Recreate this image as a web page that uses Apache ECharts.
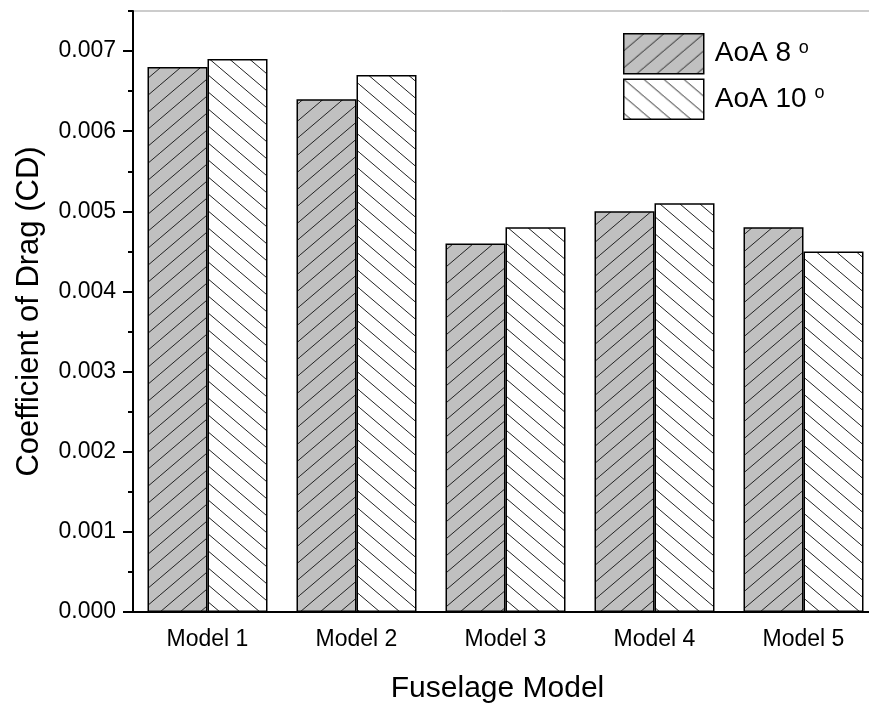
<!DOCTYPE html>
<html>
<head>
<meta charset="utf-8">
<script src="https://cdn.jsdelivr.net/npm/echarts@6/dist/echarts.min.js"></script>
<style>
html,body{margin:0;padding:0;background:#fff;}
#chart{width:869px;height:705px;}
</style>
</head>
<body>
<div id="chart"></div>
<script>
const categories = ['Model 1', 'Model 2', 'Model 3', 'Model 4', 'Model 5'];
const aoa8 = [0.0068, 0.0064, 0.0046, 0.0050, 0.0048];
const aoa10 = [0.0069, 0.0067, 0.0048, 0.0051, 0.0045];
const yMajorTicks = [0, 0.001, 0.002, 0.003, 0.004, 0.005, 0.006, 0.007];
const yMinorTicks = [0.0005, 0.0015, 0.0025, 0.0035, 0.0045, 0.0055, 0.0065, 0.0075];

function makeHatch(bg, forward) {
  const w = 20, h = 17;
  const c = document.createElement('canvas');
  c.width = w; c.height = h;
  const ctx = c.getContext('2d');
  ctx.fillStyle = bg;
  ctx.fillRect(0, 0, w, h);
  ctx.strokeStyle = '#222';
  ctx.lineWidth = 1;
  for (const k of [-1, 0, 1]) {
    ctx.beginPath();
    if (forward) {
      ctx.moveTo(k * w, h);
      ctx.lineTo(k * w + w, 0);
    } else {
      ctx.moveTo(k * w, 0);
      ctx.lineTo(k * w + w, h);
    }
    ctx.stroke();
  }
  return { image: c, repeat: 'repeat' };
}

const pat8 = makeHatch('#c0c0c0', true);
const pat10 = makeHatch('#ffffff', false);

const chart = echarts.init(document.getElementById('chart'), null, { renderer: 'canvas' });
const font = 'Liberation Sans, Arial, sans-serif';

chart.setOption({
  animation: false,
  backgroundColor: '#fff',
  textStyle: { fontFamily: font, color: '#000' },
  grid: {
    left: 133, top: 11, width: 745, height: 601,
    outerBoundsMode: 'none', containLabel: false,
    show: true, borderColor: '#999', borderWidth: 1, backgroundColor: 'transparent'
  },
  legend: {
    orient: 'vertical',
    left: 618, top: 28,
    itemWidth: 80, itemHeight: 40, itemGap: 4,
    icon: 'rect',
    data: [
      { name: 'AoA 8', itemStyle: { color: pat8, borderColor: '#000', borderWidth: 1.5 } },
      { name: 'AoA 10', itemStyle: { color: pat10, borderColor: '#000', borderWidth: 1.5 } }
    ],
    formatter: function (n) { return '{a|' + n + ' }{s|o}'; },
    textStyle: {
      fontFamily: font,
      rich: {
        a: { fontSize: 28, color: '#000', fontFamily: font, padding: [0, 0, 0, 6] },
        s: { fontSize: 18, color: '#000', fontFamily: font, verticalAlign: 'top', padding: [0, 0, 12, 0] }
      }
    }
  },
  xAxis: [
    {
      type: 'category', data: categories, position: 'bottom',
      axisLine: { lineStyle: { color: '#000', width: 2 } },
      axisTick: { alignWithLabel: true, inside: false, length: 10, lineStyle: { color: '#000', width: 2 } },
      axisLabel: { fontSize: 23, color: '#000', margin: 16, fontFamily: font },
      name: 'Fuselage Model', nameLocation: 'middle', nameGap: 62,
      nameTextStyle: { fontSize: 30, color: '#000', fontFamily: font, padding: [0, 16, 0, 0] }
    },
    {
      type: 'category', data: categories, position: 'bottom',
      axisLine: { show: false },
      axisTick: { alignWithLabel: false, length: 6, lineStyle: { color: '#000', width: 2 } },
      axisLabel: { show: false }
    }
  ],
  yAxis: [
    {
      type: 'value', min: 0, max: 0.0075, position: 'left',
      axisLine: { show: true, lineStyle: { color: '#000', width: 2 } },
      axisTick: { show: true, length: 10, customValues: yMajorTicks, lineStyle: { color: '#000', width: 2 } },
      axisLabel: {
        customValues: yMajorTicks, fontSize: 23, color: '#000', margin: 17, fontFamily: font,
        formatter: function (v) { return v.toFixed(3); }
      },
      splitLine: { show: false },
      name: 'Coefficient of Drag (CD)', nameLocation: 'middle', nameGap: 88,
      nameTextStyle: { fontSize: 31, color: '#000', fontFamily: font }
    },
    {
      type: 'value', min: 0, max: 0.0075, position: 'left',
      axisLine: { show: false },
      axisTick: { show: true, length: 5, customValues: yMinorTicks, lineStyle: { color: '#000', width: 2 } },
      axisLabel: { show: false },
      splitLine: { show: false }
    }
  ],
  series: [
    {
      name: 'AoA 8', type: 'bar', data: aoa8, barWidth: 60, barGap: '0%',
      itemStyle: { color: pat8, borderColor: '#000', borderWidth: 1.5 }
    },
    {
      name: 'AoA 10', type: 'bar', data: aoa10, barWidth: 60, barGap: '0%',
      itemStyle: { color: pat10, borderColor: '#000', borderWidth: 1.5 }
    }
  ]
});
</script>
</body>
</html>
